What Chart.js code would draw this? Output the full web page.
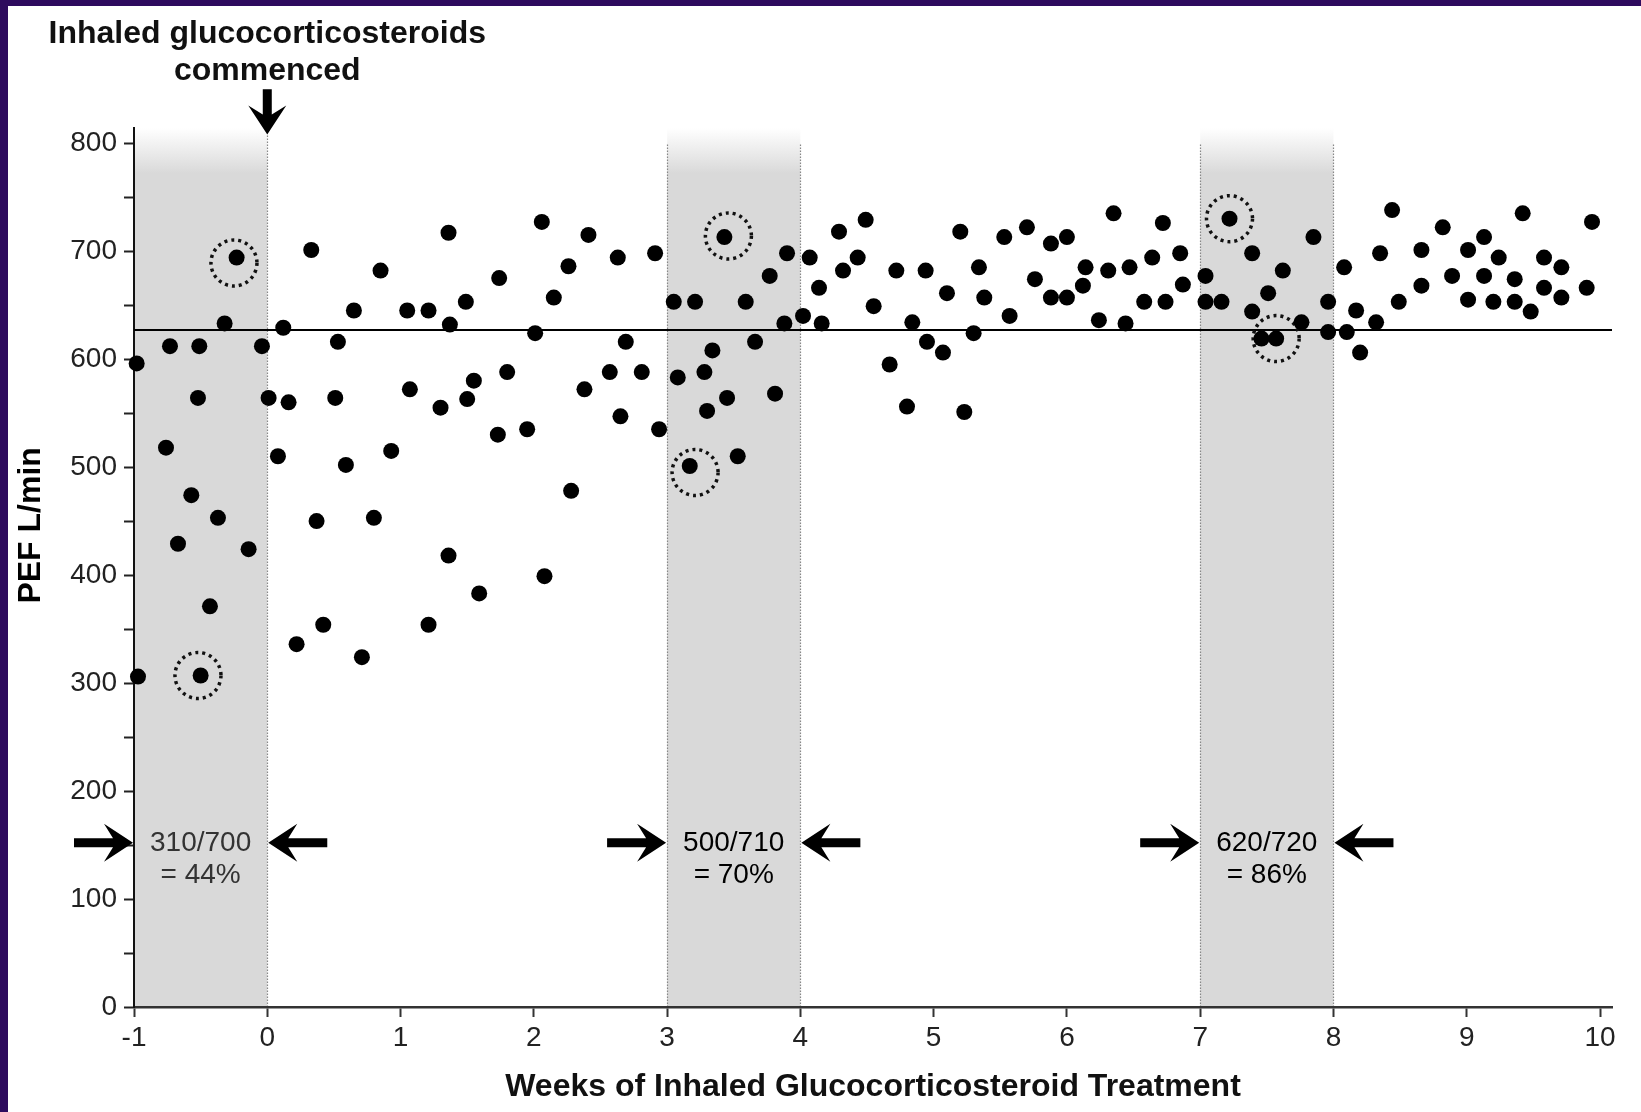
<!DOCTYPE html>
<html>
<head>
<meta charset="utf-8">
<script src="https://cdn.jsdelivr.net/npm/chart.js@4.4.1/dist/chart.umd.min.js"></script>
<style>
  html, body { margin:0; padding:0; background:#2e0b5e; }
  #frame { position:absolute; left:0; top:0; width:1641px; height:1112px; box-sizing:border-box;
           border-left:8px solid #2e0b5e; border-top:6px solid #2e0b5e; background:#fff; }
  #chart { position:absolute; left:0; top:0; }
</style>
</head>
<body>
<div id="frame"></div>
<canvas id="chart" width="1641" height="1112"></canvas>
<script>
const FONT = '"Liberation Sans", Arial, Helvetica, sans-serif';

// daily PEF readings (weeks since start of inhaled steroid, L/min)
const weeks = [
  -0.98,-0.97,-0.76,-0.73,-0.67,-0.57,-0.52,-0.51,-0.50,-0.43,-0.37,-0.32,-0.23,-0.14,-0.04,
  0.01,0.08,0.12,0.16,0.22,0.33,0.37,0.42,0.51,0.53,0.59,0.65,0.71,0.80,0.85,0.93,
  1.05,1.07,1.21,1.21,1.30,1.36,1.37,1.36,1.49,1.50,1.55,1.59,1.73,1.74,1.80,1.95,
  2.01,2.06,2.08,2.15,2.26,2.28,2.38,2.41,2.57,2.63,2.65,2.69,2.81,2.91,2.94,
  3.05,3.08,3.17,3.21,3.28,3.30,3.34,3.43,3.45,3.53,3.59,3.66,3.77,3.81,3.88,3.90,
  4.02,4.07,4.14,4.16,4.29,4.32,4.43,4.49,4.55,4.67,4.72,4.80,4.84,4.94,4.95,
  5.07,5.10,5.20,5.23,5.30,5.34,5.38,5.53,5.57,5.70,5.76,5.88,5.88,
  6.00,6.00,6.12,6.14,6.24,6.31,6.35,6.44,6.47,6.58,6.64,6.72,6.74,6.85,6.87,
  7.04,7.04,7.16,7.22,7.39,7.39,7.46,7.51,7.57,7.62,7.76,7.85,7.96,7.96,
  8.08,8.10,8.17,8.20,8.32,8.35,8.44,8.49,8.66,8.66,8.82,8.89,
  9.01,9.01,9.13,9.13,9.20,9.24,9.36,9.36,9.42,9.48,9.58,9.58,9.71,9.71,9.90,9.94
];
const pef = [
  596,306,518,612,429,474,564,612,307,371,453,633,694,424,612,
  564,510,629,560,336,701,450,354,564,616,502,645,324,453,682,515,
  645,572,645,354,555,717,632,418,653,563,580,383,530,675,588,535,
  624,727,399,657,686,478,572,715,588,694,547,616,588,698,535,
  653,583,501,653,588,552,608,713,564,510,653,616,677,568,633,698,
  640,694,666,633,718,682,694,729,649,595,682,556,634,682,616,
  606,661,718,551,624,685,657,713,640,722,674,707,657,
  713,657,668,685,636,682,735,633,685,653,694,726,653,698,669,
  677,653,653,730,698,644,619,661,619,682,634,713,653,625,
  685,625,645,606,634,698,738,653,701,668,722,677,
  701,655,713,677,653,694,674,653,735,644,694,666,685,657,666,727
];

// dotted rings marking the lowest / highest reading in each shaded week
const ringWeeks = [-0.52, -0.25, 3.21, 3.46, 7.22, 7.57];
const ringPef = [307, 689, 495, 714, 730, 619];

const meanPef = 627;
const bandStart = [-1, 3, 7];
const bandEnd = [0, 4, 8];
const bandLabels = [['310/700', '= 44%'], ['500/710', '= 70%'], ['620/720', '= 86%']];
const xTicks = [-1, 0, 1, 2, 3, 4, 5, 6, 7, 8, 9, 10];
const yTicks = [0, 50, 100, 150, 200, 250, 300, 350, 400, 450, 500, 550, 600, 650, 700, 750, 800];

const X_MIN = -1, X_MAX = 10.09, Y_MAX = 814;

function arrow(ctx, tipX, tipY, dir, len) {
  // dir: unit vector the arrow points along
  const [dx, dy] = dir, px = -dy, py = dx;
  const pts = [[0, 0], [-29, -19], [-20, -4.5], [-len, -4.5], [-len, 4.5], [-20, 4.5], [-29, 19]];
  ctx.beginPath();
  pts.forEach(([a, b], i) => {
    const X = tipX + a * dx + b * px, Y = tipY + a * dy + b * py;
    i ? ctx.lineTo(X, Y) : ctx.moveTo(X, Y);
  });
  ctx.closePath();
  ctx.fillStyle = '#000';
  ctx.fill();
}

const decor = {
  id: 'decor',
  beforeDraw(chart) {
    const {ctx, chartArea, scales: {x, y}} = chart;
    ctx.save();
    const yb = y.getPixelForValue(0);
    bandStart.forEach((s, i) => {
      const x0 = x.getPixelForValue(s), x1 = x.getPixelForValue(bandEnd[i]);
      const g = ctx.createLinearGradient(0, chartArea.top, 0, y.getPixelForValue(772));
      g.addColorStop(0, '#ffffff');
      g.addColorStop(1, '#d9d9d9');
      ctx.fillStyle = g;
      ctx.fillRect(x0, chartArea.top, x1 - x0, yb - chartArea.top);
    });
    ctx.strokeStyle = '#888';
    ctx.lineWidth = 1.2;
    ctx.setLineDash([1.5, 1.5]);
    [...bandStart, ...bandEnd].filter(v => v !== X_MIN).forEach(v => {
      const px = Math.round(x.getPixelForValue(v)) + 0.5;
      ctx.beginPath();
      ctx.moveTo(px, yb);
      ctx.lineTo(px, y.getPixelForValue(v === 0 ? 808 : 800));
      ctx.stroke();
    });
    ctx.restore();
  },
  beforeDatasetDraw(chart, args) {
    if (args.index === 1) { chart.ctx.save(); chart.ctx.setLineDash([3, 4]); }
  },
  afterDatasetDraw(chart, args) {
    if (args.index === 1) chart.ctx.restore();
  },
  afterDraw(chart) {
    const {ctx, scales: {x, y}} = chart;
    ctx.save();
    ctx.textAlign = 'center';
    ctx.textBaseline = 'middle';
    ctx.font = `28px ${FONT}`;
    ctx.fillStyle = '#333';
    bandStart.forEach((s, i) => {
      const x0 = x.getPixelForValue(s), x1 = x.getPixelForValue(bandEnd[i]);
      const cx = (x0 + x1) / 2;
      ctx.fillText(bandLabels[i][0], cx, y.getPixelForValue(152));
      ctx.fillText(bandLabels[i][1], cx, y.getPixelForValue(122));
      const ay = y.getPixelForValue(152);
      arrow(ctx, x0 - 1, ay, [1, 0], 59);
      arrow(ctx, x1 + 1, ay, [-1, 0], 59);
    });
    // "commenced" annotation above week 0
    const x0 = x.getPixelForValue(0);
    ctx.fillStyle = '#111';
    ctx.font = `bold 32px ${FONT}`;
    ctx.fillText('Inhaled glucocorticosteroids', x0, y.getPixelForValue(901));
    ctx.fillText('commenced', x0, y.getPixelForValue(867));
    const tip = y.getPixelForValue(808), tail = y.getPixelForValue(850);
    arrow(ctx, x0, tip, [0, 1], tip - tail);
    // y axis title
    ctx.translate(31, y.getPixelForValue(446));
    ctx.rotate(-Math.PI / 2);
    ctx.font = `bold 32px ${FONT}`;
    ctx.fillText('PEF L/min', 0, 0);
    ctx.restore();
  }
};

new Chart(document.getElementById('chart'), {
  type: 'scatter',
  data: {
    datasets: [
      {
        data: weeks.map((w, i) => ({x: w, y: pef[i]})),
        pointRadius: 8, pointBackgroundColor: '#000', pointBorderWidth: 0, clip: false
      },
      {
        data: ringWeeks.map((w, i) => ({x: w, y: ringPef[i]})),
        pointRadius: 23, pointBackgroundColor: 'rgba(0,0,0,0)', pointBorderColor: '#111',
        pointBorderWidth: 3.5, clip: false
      },
      {
        data: [{x: X_MIN, y: meanPef}, {x: X_MAX, y: meanPef}],
        showLine: true, pointRadius: 0, borderColor: '#000', borderWidth: 2
      }
    ]
  },
  options: {
    responsive: false,
    animation: false,
    events: [],
    layout: {padding: {top: 128, right: 29, left: 0, bottom: 0}},
    plugins: {legend: {display: false}, tooltip: {enabled: false}},
    scales: {
      x: {
        type: 'linear', min: X_MIN, max: X_MAX,
        afterBuildTicks: s => { s.ticks = xTicks.map(v => ({value: v})); },
        afterFit: s => { s.height = 105; },
        grid: {drawOnChartArea: false, tickLength: 10, tickColor: '#333', tickWidth: 2},
        border: {color: '#333', width: 2.5},
        ticks: {font: {size: 28, family: FONT}, color: '#222', padding: 4, maxRotation: 0,
                callback: v => String(v)},
        title: {display: true, text: 'Weeks of Inhaled Glucocorticosteroid Treatment',
                font: {size: 32, weight: 'bold', family: FONT}, color: '#111', padding: {top: 0, bottom: 6}}
      },
      y: {
        type: 'linear', min: 0, max: Y_MAX,
        afterBuildTicks: s => { s.ticks = yTicks.map(v => ({value: v})); },
        afterFit: s => { s.width = 134; },
        grid: {drawOnChartArea: false, tickLength: 10, tickColor: '#222', tickWidth: 2},
        border: {color: '#111', width: 2},
        ticks: {font: {size: 28, family: FONT}, color: '#222', padding: 7,
                callback: v => (v % 100 === 0 ? String(v) : '')}
      }
    }
  },
  plugins: [decor]
});
</script>
</body>
</html>
